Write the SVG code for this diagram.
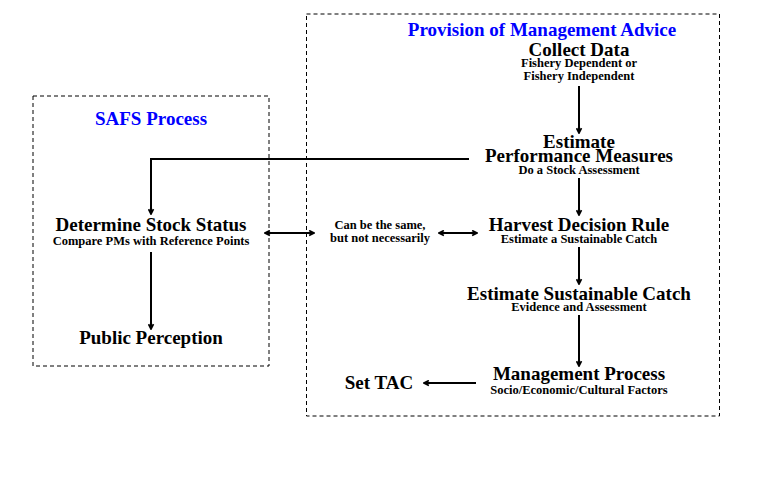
<svg xmlns="http://www.w3.org/2000/svg" width="768" height="480" viewBox="0 0 768 480">
<style>
text{font-family:"Liberation Serif","Times New Roman","DejaVu Serif",serif;font-weight:bold;text-anchor:middle;fill:#000}
.h{font-size:19px}
.s{font-size:12.5px}
.t{font-size:19px;fill:#0000ff}
.box{fill:none;stroke:#000;stroke-width:1;stroke-dasharray:4,3}
.ln{fill:none;stroke:#000;stroke-width:2}
</style>
<defs>
<marker id="ah" viewBox="0 0 10 10" refX="9" refY="5" markerWidth="7" markerHeight="7" orient="auto-start-reverse" markerUnits="userSpaceOnUse">
<path d="M2,1.5 L9,5 L2,8.5" fill="none" stroke="#000" stroke-width="2.5"/>
</marker>
</defs>
<rect width="768" height="480" fill="#fff"/>
<g id="safs-box"><rect class="box" x="33" y="96" width="236" height="270"/><text class="t" x="151" y="125">SAFS Process</text></g>
<g id="pma-box"><rect class="box" x="306.5" y="14" width="413" height="402"/><text class="t" x="542" y="36">Provision of Management Advice</text></g>
<g id="collect"><text class="h" x="579" y="56">Collect Data</text><text class="s" x="579" y="67">Fishery Dependent or</text><text class="s" x="579" y="80">Fishery Independent</text></g>
<g id="estimate"><text class="h" x="579" y="148">Estimate</text><text class="h" x="579" y="162">Performance Measures</text><text class="s" x="579" y="173.5">Do a Stock Assessment</text></g>
<g id="hdr"><text class="h" x="579" y="231">Harvest Decision Rule</text><text class="s" x="579" y="242.5">Estimate a Sustainable Catch</text></g>
<g id="esc"><text class="h" x="579" y="300">Estimate Sustainable Catch</text><text class="s" x="579" y="311">Evidence and Assessment</text></g>
<g id="mgmt"><text class="h" x="579" y="379.5">Management Process</text><text class="s" x="579" y="394">Socio/Economic/Cultural Factors</text></g>
<g id="settac"><text class="h" x="379" y="389">Set TAC</text></g>
<g id="same"><text class="s" x="380" y="228.5">Can be the same,</text><text class="s" x="380" y="241.5">but not necessarily</text></g>
<g id="status"><text class="h" x="151" y="231">Determine Stock Status</text><text class="s" x="151" y="245">Compare PMs with Reference Points</text></g>
<g id="public"><text class="h" x="151" y="343.5">Public Perception</text></g>
<g id="connectors">
<path class="ln" d="M579,86 V133" marker-end="url(#ah)"/>
<path class="ln" d="M469,159 H151 V214" marker-end="url(#ah)"/>
<path class="ln" d="M579,178 V215" marker-end="url(#ah)"/>
<path class="ln" d="M265,233 H314" marker-start="url(#ah)" marker-end="url(#ah)"/>
<path class="ln" d="M439,233 H477" marker-start="url(#ah)" marker-end="url(#ah)"/>
<path class="ln" d="M579,247 V284" marker-end="url(#ah)"/>
<path class="ln" d="M579,315 V366" marker-end="url(#ah)"/>
<path class="ln" d="M151,252 V329" marker-end="url(#ah)"/>
<path class="ln" d="M476,383 H424" marker-end="url(#ah)"/>
</g>
</svg>
